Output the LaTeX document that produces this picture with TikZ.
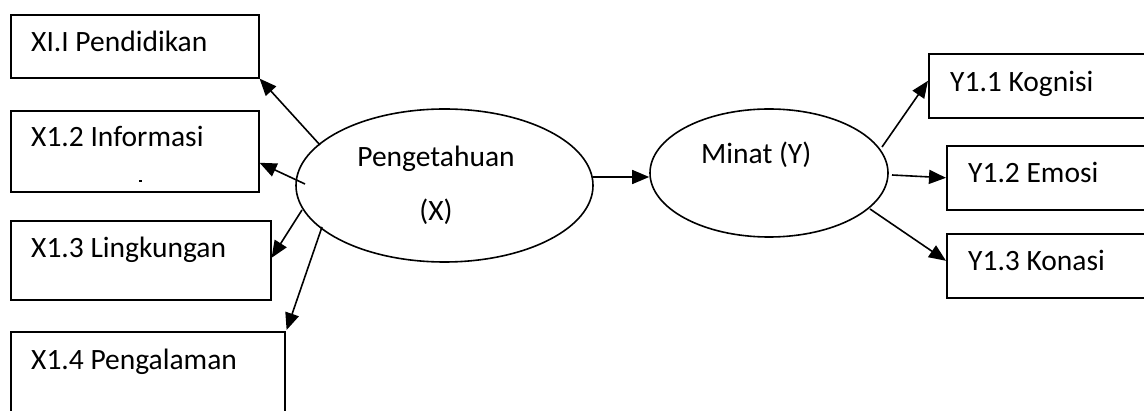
\documentclass[tikz,border=0pt]{standalone}
\usepackage{fontspec}
\setmainfont{Carlito}
\usetikzlibrary{arrows.meta,calc,shapes.geometric}
\tikzset{
  box/.style={draw, line width=1.6pt, rectangle, inner sep=0pt, anchor=north west},
  oval/.style={draw, line width=1.6pt, ellipse, inner sep=0pt},
  lbl/.style={anchor=base west, inner sep=0pt, font=\fontsize{29.5}{34}\selectfont},
  clbl/.style={anchor=base, inner sep=0pt, font=\fontsize{29.5}{34}\selectfont},
  link/.style={line width=1.6pt, -{Triangle[length=17pt,width=14pt]}}
}
\begin{document}
\begin{tikzpicture}[x=1pt,y=-1pt]
\useasboundingbox (0,0) rectangle (1144,411);
\clip (0,0) rectangle (1144,411);

% indicator boxes of the knowledge variable
\node[box, minimum width=248pt, minimum height=63pt] (b1) at (10,14) {};
\node[box, minimum width=248pt, minimum height=81pt] (b2) at (10,110) {};
\node[box, minimum width=260pt, minimum height=79pt] (b3) at (10,220) {};
\node[box, minimum width=274pt, minimum height=100pt] (b4) at (10,331) {};
\node[lbl] (t1) at (31,52) {XI.I Pendidikan};
\node[lbl] (t2) at (31,147) {X1.2 Informasi};
\node[lbl] (t3) at (31,258) {X1.3 Lingkungan};
\node[lbl] (t4) at (31,370) {X1.4 Pengalaman};
\fill (139,180.5) rectangle (142,182);

% indicator boxes of the interest variable
\node[box, minimum width=240pt, minimum height=64pt] (c1) at (928,53) {};
\node[box, minimum width=220pt, minimum height=64pt] (c2) at (946,145) {};
\node[box, minimum width=220pt, minimum height=64pt] (c3) at (946,233) {};
\node[lbl] (u1) at (950,92) {Y1.1 Kognisi};
\node[lbl] (u2) at (968,183) {Y1.2 Emosi};
\node[lbl] (u3) at (968,271) {Y1.3 Konasi};

% latent variables
\node[oval, minimum width=297pt, minimum height=153pt] (X) at (444.5,185.5) {};
\node[oval, minimum width=238pt, minimum height=128pt] (Y) at (769,173) {};
\node[clbl] (xt1) at (436,167) {Pengetahuan};
\node[clbl] (xt2) at (436,221) {(X)};
\node[lbl] (yt) at (701,164) {Minat (Y)};

% arrow start points on the ovals
\coordinate (x1) at (320,145);
\coordinate (x2) at (305,184);
\coordinate (x3) at (302,210);
\coordinate (x4) at (322,227);
\coordinate (xy) at (593,177);
\coordinate (y1) at (882,147);
\coordinate (y2) at (892,175);
\coordinate (y3) at (870,209);

% connectors
\draw[link] (x1) -- (b1.south east);
\draw[link] (x2) -- ($(b2.east)+(0,11.5)$);
\draw[link] (x3) -- ($(b3.east)+(0,-2.5)$);
\draw[link] (x4) -- ($(b4.north east)+(1,-1)$);
\draw[link] (xy) -- (Y.west |- xy);
\draw[link] (y1) -- ($(c1.west)+(0,-5)$);
\draw[link] (y2) -- (c2.west);
\draw[link] (y3) -- ($(c3.west)+(0,-5)$);
\end{tikzpicture}
\end{document}
